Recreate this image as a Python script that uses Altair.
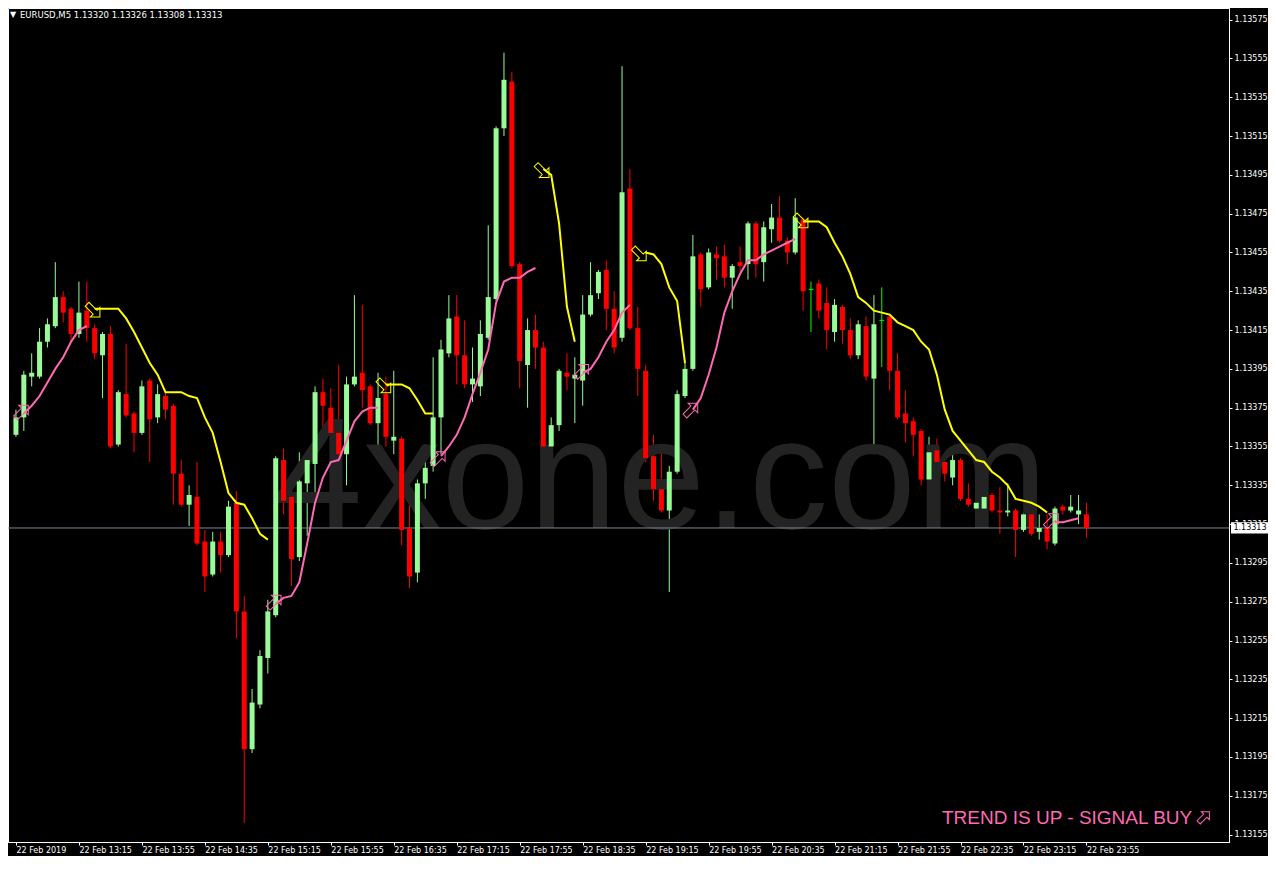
import altair as alt
import pandas as pd

# ---------------- data ----------------
symbol_header = "EURUSD,M5  1.13320 1.13326 1.13308 1.13313"
watermark = "4xone.com"
signal_text = "TREND IS UP - SIGNAL BUY"
last_price = 1.13313

time_labels = ["22 Feb 2019", "22 Feb 13:15", "22 Feb 13:55", "22 Feb 14:35", "22 Feb 15:15",
               "22 Feb 15:55", "22 Feb 16:35", "22 Feb 17:15", "22 Feb 17:55", "22 Feb 18:35",
               "22 Feb 19:15", "22 Feb 19:55", "22 Feb 20:35", "22 Feb 21:15", "22 Feb 21:55",
               "22 Feb 22:35", "22 Feb 23:15", "22 Feb 23:55"]
time_label_bars = [0, 8, 16, 24, 32, 40, 48, 56, 64, 72, 80, 88, 96, 104, 112, 120, 128, 136]

price_ticks = [1.13155, 1.13175, 1.13195, 1.13215, 1.13235, 1.13255, 1.13275, 1.13295,
               1.13315, 1.13335, 1.13355, 1.13375, 1.13395, 1.13415, 1.13435, 1.13455,
               1.13475, 1.13495, 1.13515, 1.13535, 1.13555, 1.13575]

opens = [1.13361, 1.13370, 1.13391, 1.13391, 1.13409, 1.13417, 1.13432, 1.13426, 1.13413, 1.13425,
         1.13416, 1.13402, 1.13413, 1.13356, 1.13382, 1.13372, 1.13362, 1.13389, 1.13370, 1.13381,
         1.13376, 1.13341, 1.13325, 1.13329, 1.13306, 1.13289, 1.13306, 1.13299, 1.13326, 1.13270,
         1.13199, 1.13222, 1.13246, 1.13268, 1.13348, 1.13329, 1.13298, 1.13336, 1.13346, 1.13383,
         1.13375, 1.13362, 1.13351, 1.13387, 1.13393, 1.13386, 1.13367, 1.13382, 1.13358, 1.13359,
         1.13313, 1.13290, 1.13336, 1.13345, 1.13370, 1.13403, 1.13422, 1.13402, 1.13387, 1.13386,
         1.13411, 1.13431, 1.13519, 1.13543, 1.13449, 1.13397, 1.13415, 1.13406, 1.13355, 1.13366,
         1.13393, 1.13390, 1.13389, 1.13423, 1.13434, 1.13446, 1.13426, 1.13411, 1.13488, 1.13416,
         1.13394, 1.13350, 1.13333, 1.13322, 1.13342, 1.13381, 1.13395, 1.13454, 1.13437, 1.13454,
         1.13453, 1.13442, 1.13450, 1.13449, 1.13470, 1.13450, 1.13467, 1.13473, 1.13461, 1.13455,
         1.13472, 1.13436, 1.13439, 1.13429, 1.13414, 1.13427, 1.13415, 1.13402, 1.13417, 1.13390,
         1.13420, 1.13422, 1.13394, 1.13372, 1.13368, 1.13363, 1.13338, 1.13353, 1.13347, 1.13339,
         1.13348, 1.13328, 1.13323, 1.13323, 1.13330, 1.13322, 1.13321, 1.13322, 1.13312, 1.13320,
         1.13311, 1.13313, 1.13305, 1.13324, 1.13322, 1.13320, 1.13320]

highs = [1.13374, 1.13394, 1.13403, 1.13416, 1.13421, 1.13450, 1.13435, 1.13427, 1.13440, 1.13440,
         1.13418, 1.13414, 1.13417, 1.13384, 1.13408, 1.13373, 1.13389, 1.13390, 1.13387, 1.13383,
         1.13377, 1.13348, 1.13335, 1.13347, 1.13312, 1.13311, 1.13311, 1.13327, 1.13332, 1.13278,
         1.13230, 1.13250, 1.13276, 1.13350, 1.13354, 1.13339, 1.13352, 1.13352, 1.13386, 1.13390,
         1.13385, 1.13397, 1.13391, 1.13433, 1.13428, 1.13387, 1.13393, 1.13391, 1.13394, 1.13360,
         1.13326, 1.13338, 1.13356, 1.13401, 1.13410, 1.13433, 1.13433, 1.13420, 1.13406, 1.13420,
         1.13469, 1.13520, 1.13558, 1.13548, 1.13450, 1.13421, 1.13423, 1.13409, 1.13370, 1.13395,
         1.13403, 1.13401, 1.13433, 1.13450, 1.13446, 1.13451, 1.13435, 1.13551, 1.13498, 1.13427,
         1.13397, 1.13361, 1.13356, 1.13345, 1.13384, 1.13398, 1.13464, 1.13455, 1.13457, 1.13458,
         1.13459, 1.13449, 1.13458, 1.13471, 1.13471, 1.13471, 1.13480, 1.13484, 1.13463, 1.13483,
         1.13473, 1.13440, 1.13441, 1.13437, 1.13431, 1.13428, 1.13421, 1.13420, 1.13422, 1.13433,
         1.13437, 1.13423, 1.13403, 1.13384, 1.13370, 1.13364, 1.13360, 1.13359, 1.13348, 1.13352,
         1.13349, 1.13336, 1.13335, 1.13333, 1.13331, 1.13334, 1.13336, 1.13323, 1.13321, 1.13323,
         1.13320, 1.13320, 1.13324, 1.13325, 1.13330, 1.13330, 1.13326]

lows = [1.13360, 1.13363, 1.13386, 1.13390, 1.13406, 1.13416, 1.13419, 1.13409, 1.13411, 1.13409,
        1.13400, 1.13380, 1.13354, 1.13355, 1.13370, 1.13352, 1.13361, 1.13347, 1.13367, 1.13369,
        1.13325, 1.13324, 1.13314, 1.13304, 1.13280, 1.13288, 1.13290, 1.13298, 1.13256, 1.13161,
        1.13197, 1.13220, 1.13238, 1.13267, 1.13320, 1.13283, 1.13296, 1.13309, 1.13331, 1.13363,
        1.13342, 1.13342, 1.13335, 1.13386, 1.13375, 1.13366, 1.13355, 1.13355, 1.13351, 1.13304,
        1.13282, 1.13285, 1.13328, 1.13342, 1.13351, 1.13401, 1.13387, 1.13385, 1.13378, 1.13381,
        1.13410, 1.13430, 1.13515, 1.13447, 1.13385, 1.13375, 1.13395, 1.13351, 1.13351, 1.13363,
        1.13384, 1.13367, 1.13376, 1.13422, 1.13431, 1.13415, 1.13403, 1.13409, 1.13415, 1.13381,
        1.13347, 1.13327, 1.13321, 1.13280, 1.13341, 1.13380, 1.13394, 1.13427, 1.13436, 1.13441,
        1.13437, 1.13426, 1.13445, 1.13441, 1.13442, 1.13440, 1.13460, 1.13460, 1.13449, 1.13454,
        1.13425, 1.13414, 1.13421, 1.13405, 1.13409, 1.13408, 1.13400, 1.13400, 1.13389, 1.13351,
        1.13396, 1.13384, 1.13369, 1.13357, 1.13350, 1.13335, 1.13335, 1.13342, 1.13337, 1.13335,
        1.13327, 1.13324, 1.13321, 1.13321, 1.13321, 1.13310, 1.13319, 1.13298, 1.13311, 1.13309,
        1.13307, 1.13302, 1.13304, 1.13320, 1.13321, 1.13315, 1.13308]

closes = [1.13370, 1.13392, 1.13393, 1.13409, 1.13418, 1.13432, 1.13424, 1.13413, 1.13424, 1.13416,
          1.13403, 1.13413, 1.13355, 1.13383, 1.13371, 1.13362, 1.13386, 1.13369, 1.13382, 1.13374,
          1.13341, 1.13325, 1.13330, 1.13305, 1.13288, 1.13306, 1.13299, 1.13324, 1.13270, 1.13199,
          1.13223, 1.13247, 1.13270, 1.13349, 1.13327, 1.13297, 1.13337, 1.13348, 1.13383, 1.13376,
          1.13362, 1.13351, 1.13387, 1.13391, 1.13384, 1.13367, 1.13380, 1.13360, 1.13360, 1.13312,
          1.13288, 1.13336, 1.13344, 1.13370, 1.13405, 1.13421, 1.13402, 1.13387, 1.13390, 1.13413,
          1.13432, 1.13519, 1.13544, 1.13448, 1.13399, 1.13415, 1.13406, 1.13355, 1.13366, 1.13394,
          1.13391, 1.13392, 1.13423, 1.13433, 1.13445, 1.13426, 1.13406, 1.13486, 1.13416, 1.13395,
          1.13349, 1.13333, 1.13322, 1.13342, 1.13382, 1.13395, 1.13453, 1.13436, 1.13455, 1.13452,
          1.13442, 1.13448, 1.13448, 1.13470, 1.13449, 1.13468, 1.13473, 1.13461, 1.13455, 1.13473,
          1.13435, 1.13436, 1.13425, 1.13415, 1.13428, 1.13415, 1.13402, 1.13418, 1.13391, 1.13418,
          1.13420, 1.13394, 1.13370, 1.13367, 1.13361, 1.13338, 1.13352, 1.13347, 1.13341, 1.13348,
          1.13328, 1.13325, 1.13326, 1.13329, 1.13322, 1.13321, 1.13322, 1.13312, 1.13320, 1.13310,
          1.13313, 1.13306, 1.13323, 1.13322, 1.13324, 1.13322, 1.13313]

# down-trend (yellow) line segments: first bar index + values
down_starts = [10, 47, 67, 80, 100]
down_values = [
    [1.13426, 1.13426, 1.13426, 1.13426, 1.13421, 1.13414, 1.13406, 1.13398, 1.13392, 1.13383,
     1.13383, 1.13383, 1.13381, 1.13380, 1.13370, 1.13362, 1.13347, 1.13331, 1.13326, 1.13325,
     1.13318, 1.13310, 1.13307],
    [1.13387, 1.13387, 1.13387, 1.13385, 1.13379, 1.13372, 1.13372],
    [1.13498, 1.13495, 1.13470, 1.13427, 1.13409],
    [1.13455, 1.13454, 1.13449, 1.13437, 1.13430, 1.13398],
    [1.13471, 1.13471, 1.13471, 1.13468, 1.13460, 1.13453, 1.13444, 1.13432, 1.13429, 1.13425,
     1.13424, 1.13423, 1.13419, 1.13417, 1.13415, 1.13409, 1.13405, 1.13392, 1.13374, 1.13363,
     1.13358, 1.13353, 1.13348, 1.13347, 1.13342, 1.13339, 1.13335, 1.13328, 1.13327, 1.13326,
     1.13324, 1.13321],
]
# up-trend (pink) line segments
up_starts = [1, 33, 54, 72, 86, 132]
up_values = [
    [1.13372, 1.13376, 1.13381, 1.13388, 1.13395, 1.13401, 1.13409, 1.13415, 1.13417],
    [1.13274, 1.13277, 1.13278, 1.13285, 1.13305, 1.13326, 1.13339, 1.13347, 1.13348, 1.13358,
     1.13368, 1.13373, 1.13375, 1.13375],
    [1.13350, 1.13355, 1.13361, 1.13370, 1.13382, 1.13393, 1.13405, 1.13429, 1.13440, 1.13442,
     1.13442, 1.13445, 1.13447],
    [1.13393, 1.13395, 1.13401, 1.13409, 1.13415, 1.13424, 1.13428],
    [1.13374, 1.13380, 1.13392, 1.13406, 1.13424, 1.13435, 1.13444, 1.13451, 1.13451, 1.13454,
     1.13456, 1.13458, 1.13460, 1.13462],
    [1.13316, 1.13316, 1.13317, 1.13318],
]

sell_bars = [9.85, 46.8, 66.9, 79.25, 99.8]
sell_prices = [1.13425, 1.13386, 1.13497, 1.13454, 1.13471]
buy_bars = [0.75, 32.86, 53.7, 71.94, 85.8, 131.6]
buy_prices = [1.13373, 1.13275, 1.13349, 1.13394, 1.13374, 1.13317]

# ---------------- tables ----------------
candles = pd.DataFrame({"bar": list(range(len(opens))), "open": opens, "high": highs,
                        "low": lows, "close": closes})
candles["dir"] = ["up" if c > o else ("down" if c < o else "doji")
                  for o, c in zip(opens, closes)]

rows = []
for s, (st, vals) in enumerate(zip(down_starts, down_values)):
    for k, v in enumerate(vals):
        rows.append({"seg": s, "bar": st + k, "val": v})
down_df = pd.DataFrame(rows)
rows = []
for s, (st, vals) in enumerate(zip(up_starts, up_values)):
    for k, v in enumerate(vals):
        rows.append({"seg": s, "bar": st + k, "val": v})
up_df = pd.DataFrame(rows)

sell_df = pd.DataFrame({"bar": sell_bars, "price": sell_prices})
buy_df = pd.DataFrame({"bar": buy_bars, "price": buy_prices})

# ---------------- layout ----------------
W, H = 1221, 834
X_SCALE = alt.Scale(domain=[-0.375, 153.475], nice=False, zero=False)
Y_SCALE = alt.Scale(domain=[1.1315115, 1.135810], nice=False, zero=False)
FONT = "DejaVu Sans"
GREEN = "#98fb98"
RED = "#ff0000"
YELLOW = "#ffff00"
PINK = "#ff69b4"
ARROW = "M0,-1 L0.75,-0.25 L0.3,-0.25 L0.3,1 L-0.3,1 L-0.3,-0.25 L-0.75,-0.25 Z"

label_expr = "[" + ",".join("'%s'" % t for t in time_labels) + "][round(datum.value / 8)]"

x_axis = alt.Axis(values=time_label_bars, labelExpr=label_expr, labelAlign="left",
                  labelColor="white", labelFont=FONT, labelFontSize=8, labelPadding=1,
                  tickColor="white", tickSize=3, domainColor="white", grid=False,
                  labelOverlap=False, labelFlush=False, title=None)
y_axis = alt.Axis(orient="right", values=price_ticks, format=".5f", labelColor="white",
                  labelFont=FONT, labelFontSize=8, labelPadding=2, tickColor="white",
                  tickSize=3, domainColor="white", grid=False, labelOverlap=False,
                  labelFlush=False, labelBound=False, title=None)

dir_color = alt.Color("dir:N", scale=alt.Scale(domain=["up", "down", "doji"],
                                               range=[GREEN, RED, "#00ff00"]), legend=None)


def X(field):
    return alt.X(field, scale=X_SCALE, axis=x_axis, title=None)


def Y(field):
    return alt.Y(field, scale=Y_SCALE, axis=y_axis, title=None)


wm = alt.Chart(pd.DataFrame({"t": [watermark]})).mark_text(
    font="Liberation Sans", fontSize=158, color="#232323",
    align="center", baseline="alphabetic").encode(
    x=alt.value(653), y=alt.value(520), text="t:N")

bid = alt.Chart(pd.DataFrame({"p": [last_price]})).mark_rule(
    color="#778899", strokeWidth=1).encode(y=Y("p:Q"))

wicks = alt.Chart(candles).mark_rule(strokeWidth=1).encode(
    x=X("bar:Q"), y=Y("low:Q"), y2="high:Q", color=dir_color)

bodies = alt.Chart(candles).transform_filter("datum.dir != 'doji'").mark_bar(width=5).encode(
    x=X("bar:Q"), y=Y("open:Q"), y2="close:Q", color=dir_color)

dojis = alt.Chart(candles).transform_filter("datum.dir == 'doji'").transform_calculate(
    b0="datum.bar - 0.3", b1="datum.bar + 0.3").mark_rule(color="#00ff00", strokeWidth=1).encode(
    x=X("b0:Q"), x2="b1:Q", y=Y("open:Q"))

down_lines = alt.Chart(down_df).mark_line(color=YELLOW, strokeWidth=2).encode(
    x=X("bar:Q"), y=Y("val:Q"), detail="seg:N")
up_lines = alt.Chart(up_df).mark_line(color=PINK, strokeWidth=2).encode(
    x=X("bar:Q"), y=Y("val:Q"), detail="seg:N")

sells = alt.Chart(sell_df).mark_point(shape=ARROW, angle=135, size=330, filled=False,
                                      strokeWidth=1, color=YELLOW, opacity=1).encode(
    x=X("bar:Q"), y=Y("price:Q"))
buys = alt.Chart(buy_df).mark_point(shape=ARROW, angle=45, size=330, filled=False,
                                    strokeWidth=1, color=PINK, opacity=1).encode(
    x=X("bar:Q"), y=Y("price:Q"))

hdr_tri = alt.Chart(pd.DataFrame({"t": ["\u25bc"]})).mark_text(
    font=FONT, fontSize=8, color="white", align="left", baseline="alphabetic").encode(
    x=alt.value(2), y=alt.value(9), text="t:N")
hdr = alt.Chart(pd.DataFrame({"t": [symbol_header]})).mark_text(
    font=FONT, fontSize=8.5, color="white", align="left", baseline="alphabetic").encode(
    x=alt.value(12), y=alt.value(10), text="t:N")

sig = alt.Chart(pd.DataFrame({"t": [signal_text]})).mark_text(
    font="Liberation Sans", fontSize=19, color=PINK, align="left", baseline="alphabetic").encode(
    x=alt.value(934), y=alt.value(816), text="t:N")
sig_arrow = alt.Chart(pd.DataFrame({"t": [signal_text]})).mark_point(
    shape=ARROW, angle=45, size=230, filled=False, strokeWidth=1, color=PINK, opacity=1).encode(
    x=alt.value(1196), y=alt.value(809))

box = alt.Chart(pd.DataFrame({"p": [last_price]})).transform_calculate(
    top="datum.p + 0.0000290", bot="datum.p - 0.0000290").mark_rect(color="white").encode(
    x=alt.value(W + 2), x2=alt.value(W + 39), y=Y("top:Q"), y2="bot:Q")
box_txt = alt.Chart(pd.DataFrame({"p": [last_price]})).transform_calculate(
    t="format(datum.p, '.5f')").mark_text(
    font=FONT, fontSize=8, color="black", align="center", baseline="middle").encode(
    x=alt.value(W + 21), y=Y("p:Q"), text="t:N")

chart = alt.layer(wicks, wm, bid, bodies, dojis, down_lines, up_lines, sells, buys,
                  hdr_tri, hdr, sig, sig_arrow, box, box_txt).properties(
    width=W, height=H,
    autosize=alt.AutoSizeParams(type="none"),
    padding={"left": 0, "top": 0, "right": 39, "bottom": 14},
    background="#000000",
).configure_view(stroke="#ffffff", strokeWidth=1, fill="#000000").configure_axis(
    labelOverlap=False)

chart.save("out.html", embed_options={"renderer": "svg", "actions": False})
